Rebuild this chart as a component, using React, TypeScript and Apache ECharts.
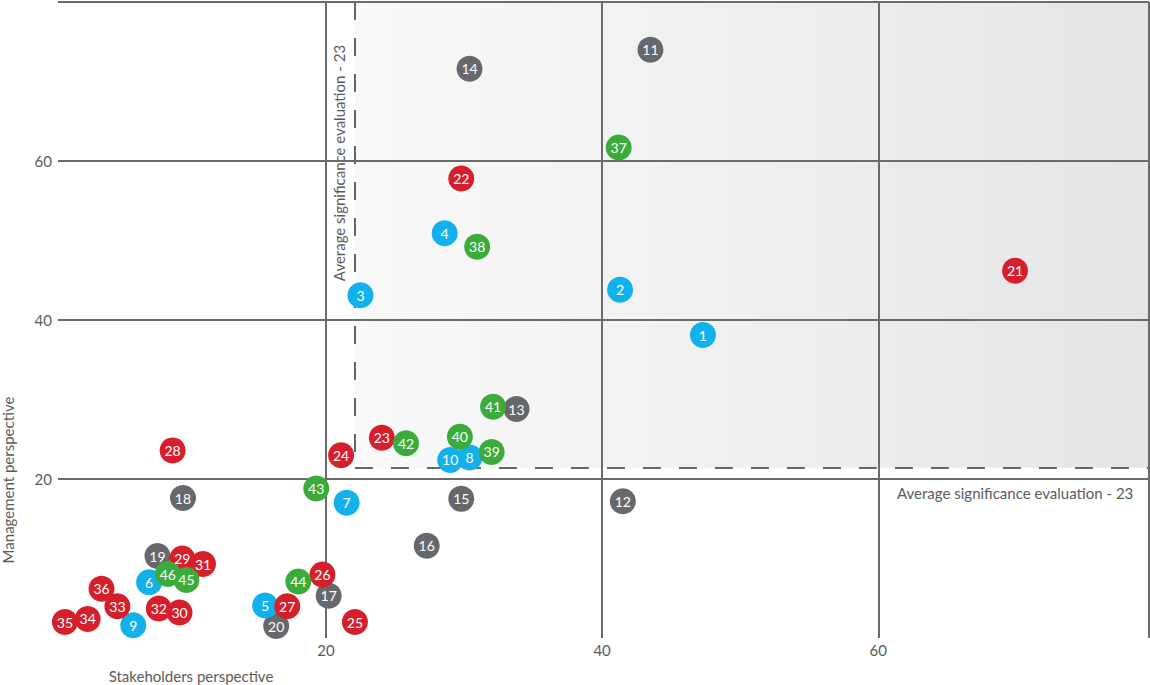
import { useEffect, useRef } from "react";
import * as echarts from "echarts";

// Axis ranges and ticks
const xTicks = [20, 40, 60];
const yTicks = [20, 40, 60];
const X_MIN = 0.6;
const X_MAX = 79.6;
const Y_MIN = 0;
const Y_MAX = 80;

// Average significance evaluation thresholds (dashed lines)
const avgX = 22.1;
const avgY = 21.4;

// [topic id, stakeholders perspective (x), management perspective (y)]
const blueTopics = [
  [1, 47.3, 38.1],
  [2, 41.3, 43.8],
  [3, 22.5, 43.1],
  [4, 28.6, 50.9],
  [5, 15.6, 4.1],
  [6, 7.2, 7.0],
  [7, 21.5, 17.0],
  [10, 29.0, 22.4],
  [8, 30.4, 22.7],
  [9, 6.05, 1.6],
];
const grayTopics = [
  [11, 43.5, 74.0],
  [12, 41.5, 17.2],
  [13, 33.8, 28.8],
  [14, 30.4, 71.6],
  [15, 29.8, 17.5],
  [16, 27.3, 11.6],
  [17, 20.2, 5.3],
  [18, 9.65, 17.6],
  [19, 7.8, 10.3],
  [20, 16.4, 1.5],
];
const redTopics = [
  [21, 69.9, 46.2],
  [22, 29.8, 57.8],
  [23, 24.05, 25.2],
  [24, 21.1, 23.0],
  [25, 22.1, 2.0],
  [26, 19.75, 8.0],
  [27, 17.2, 4.0],
  [28, 8.9, 23.6],
  [29, 9.6, 10.0],
  [30, 9.4, 3.2],
  [31, 11.1, 9.3],
  [32, 7.9, 3.7],
  [33, 4.9, 4.0],
  [34, 2.75, 2.4],
  [35, 1.1, 2.0],
  [36, 3.75, 6.2],
];
const greenTopics = [
  [37, 41.2, 61.7],
  [38, 30.95, 49.2],
  [39, 32.0, 23.4],
  [40, 29.7, 25.3],
  [41, 32.1, 29.1],
  [42, 25.8, 24.5],
  [43, 19.3, 18.8],
  [44, 18.0, 7.1],
  [46, 8.55, 8.05],
  [45, 9.9, 7.3],
];

const FONT = "Lato";
const TEXT = "#5b5b5b";
const GRID = "#6b6b6b";

function bubbleSeries(name: string, rows: number[][], color: string) {
  return {
    name,
    type: "scatter",
    z: 5,
    symbol: "circle",
    symbolSize: 26,
    itemStyle: { color, opacity: 1 },
    label: {
      show: true,
      position: "inside",
      formatter: (p: any) => String(p.data[2]),
      color: "#ffffff",
      fontSize: 14,
      fontFamily: FONT,
    },
    emphasis: { disabled: true },
    data: rows.map((r) => [r[1], r[2], r[0]]),
  };
}

export default function App() {
  const ref = useRef<HTMLDivElement>(null);

  useEffect(() => {
    if (!ref.current) return;
    const chart = echarts.init(ref.current, undefined, { renderer: "svg" });

    const gridLines: any[] = [];
    [...xTicks, X_MAX].forEach((v) =>
      gridLines.push([{ coord: [v, Y_MIN] }, { coord: [v, Y_MAX] }])
    );
    [...yTicks, Y_MAX].forEach((v) =>
      gridLines.push([{ coord: [X_MIN, v] }, { coord: [X_MAX, v] }])
    );

    chart.setOption({
      animation: false,
      backgroundColor: "#ffffff",
      grid: { left: 58, right: 1, top: 2, bottom: 47, containLabel: false },
      xAxis: {
        type: "value",
        min: X_MIN,
        max: X_MAX,
        axisLine: { show: false },
        axisTick: { show: false, customValues: xTicks },
        splitLine: { show: false },
        axisLabel: {
          customValues: xTicks,
          color: TEXT,
          fontSize: 15,
          fontFamily: FONT,
          margin: 4,
        },
      },
      yAxis: {
        type: "value",
        min: Y_MIN,
        max: Y_MAX,
        axisLine: { show: false },
        axisTick: { show: false, customValues: yTicks },
        splitLine: { show: false },
        axisLabel: {
          customValues: yTicks,
          color: TEXT,
          fontSize: 15,
          fontFamily: FONT,
          margin: 6,
        },
      },
      graphic: [
        {
          type: "text",
          x: 1014,
          y: 22,
          style: {
            text: "Priority topics",
            fill: TEXT,
            font: `20px ${FONT}`,
            align: "center",
            verticalAlign: "middle",
          },
        },
        {
          type: "text",
          x: 897,
          y: 493,
          style: {
            text: "Average significance evaluation - 23",
            fill: TEXT,
            font: `15px ${FONT}`,
            align: "left",
            verticalAlign: "middle",
          },
        },
        {
          type: "text",
          x: 339,
          y: 163,
          rotation: Math.PI / 2,
          style: {
            text: "Average significance evaluation - 23",
            fill: TEXT,
            font: `15px ${FONT}`,
            align: "center",
            verticalAlign: "middle",
          },
        },
        {
          type: "text",
          x: 8,
          y: 480,
          rotation: Math.PI / 2,
          style: {
            text: "Management perspective",
            fill: TEXT,
            font: `15px ${FONT}`,
            align: "center",
            verticalAlign: "middle",
          },
        },
        {
          type: "text",
          x: 191,
          y: 676,
          style: {
            text: "Stakeholders perspective",
            fill: TEXT,
            font: `15px ${FONT}`,
            align: "center",
            verticalAlign: "middle",
          },
        },
      ],
      series: [
        {
          name: "area",
          type: "scatter",
          z: 1,
          silent: true,
          data: [],
          markArea: {
            silent: true,
            itemStyle: {
              color: new echarts.graphic.LinearGradient(0, 0, 1, 0, [
                { offset: 0, color: "#f9f9f9" },
                { offset: 1, color: "#e4e5e7" },
              ]),
            },
            label: { show: false },
            data: [[{ coord: [avgX, avgY] }, { coord: [X_MAX, Y_MAX] }]],
          },
        },
        {
          name: "grid",
          type: "scatter",
          z: 2,
          silent: true,
          data: [],
          markLine: {
            silent: true,
            symbol: ["none", "none"],
            label: { show: false },
            lineStyle: { color: GRID, width: 2, type: "solid" },
            emphasis: { disabled: true },
            data: gridLines,
          },
        },
        {
          name: "avg",
          type: "scatter",
          z: 3,
          silent: true,
          data: [],
          markLine: {
            silent: true,
            symbol: ["none", "none"],
            label: { show: false },
            lineStyle: { color: "#666666", width: 2, type: [18, 18] },
            emphasis: { disabled: true },
            data: [
              [{ coord: [avgX, Y_MAX] }, { coord: [avgX, avgY] }],
              [{ coord: [avgX, avgY] }, { coord: [X_MAX, avgY] }],
            ],
          },
        },
        bubbleSeries("gray", grayTopics, "#67686b"),
        bubbleSeries("blue", blueTopics, "#12b1ec"),
        bubbleSeries("red", redTopics, "#d61f2b"),
        bubbleSeries("green", greenTopics, "#3bab3b"),
      ],
    });

    return () => chart.dispose();
  }, []);

  return (
    <div
      ref={ref}
      style={{ position: "absolute", left: 0, top: 0, width: 1150, height: 685 }}
    />
  );
}
